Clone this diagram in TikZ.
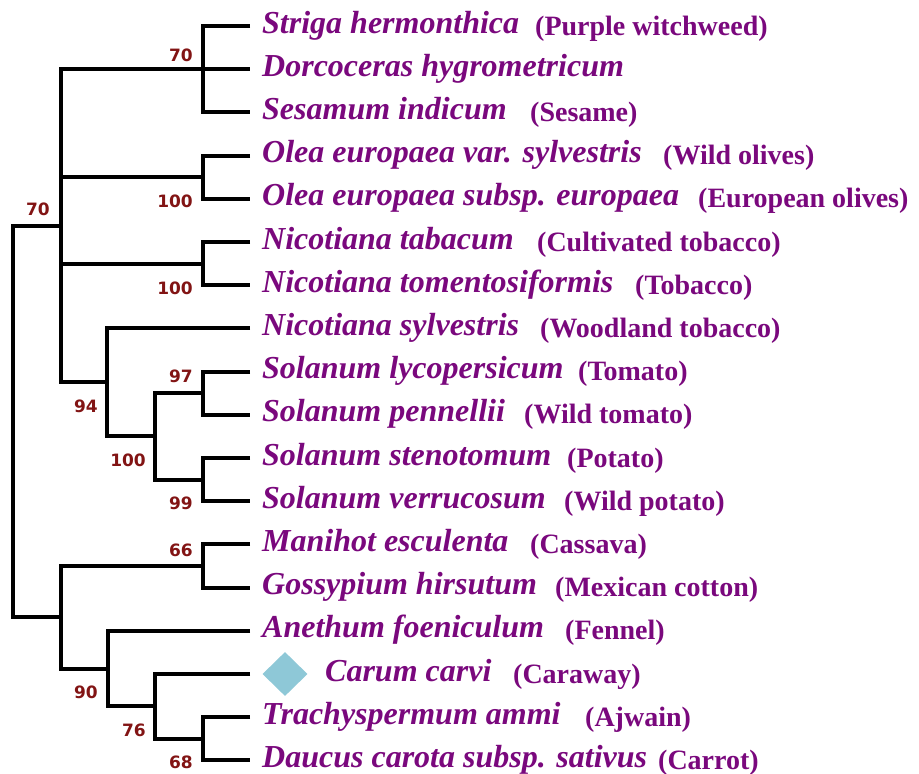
\documentclass[tikz,border=0pt]{standalone}
\usepackage{fontspec}
\setmainfont{Liberation Serif}
\newfontfamily\lblfont{DejaVu Sans}
\usetikzlibrary{shapes.geometric}
\definecolor{taxon}{RGB}{122,8,125}
\definecolor{boot}{RGB}{130,20,20}
\definecolor{gem}{RGB}{142,200,215}
\begin{document}
\begin{tikzpicture}[x=1pt,y=-1pt,
  branch/.style={line width=4pt,line join=miter},
  sci/.style={text=taxon,inner sep=0pt,anchor=base west,font=\fontsize{32}{36}\selectfont\bfseries\itshape},
  common/.style={text=taxon,inner sep=0pt,anchor=base west,font=\fontsize{28}{32}\selectfont\bfseries},
  bs/.style={text=boot,inner sep=0pt,anchor=base east,font=\lblfont\fontsize{17}{20}\selectfont\bfseries}]
\useasboundingbox[fill=white] (0,0) rectangle (919,774);
% leaves
\foreach \i in {0,...,17}{\coordinate (l\i) at (250,{26+43.2*\i});}
% internal nodes
\coordinate (s1) at (203,69.2);
\coordinate (o1) at (203,177.2);
\coordinate (n1) at (203,263.6);
\coordinate (t1) at (203,393.2);
\coordinate (t2) at (203,479.6);
\coordinate (sol) at (155,436.4);
\coordinate (s94) at (107,382.4);
\coordinate (A) at (61,225.8);
\coordinate (m1) at (203,566);
\coordinate (c68) at (203,738.8);
\coordinate (c76) at (155,706.4);
\coordinate (c90) at (108,668.6);
\coordinate (B) at (61,617.3);
\coordinate (root) at (13,421.5);
% branches
\draw[branch] (l0) -| (s1) |- (l2);
\draw[branch] (s1) -- (l1);
\draw[branch] (l3) -| (o1) |- (l4);
\draw[branch] (l5) -| (n1) |- (l6);
\draw[branch] (l8) -| (t1) |- (l9);
\draw[branch] (l10) -| (t2) |- (l11);
\draw[branch] (t1) -| (sol) |- (t2);
\draw[branch] (l7) -| (s94) |- (sol);
\draw[branch] (s1) -| (A) |- (s94);
\draw[branch] (A |- o1) -- (o1);
\draw[branch] (A |- n1) -- (n1);
\draw[branch] (l12) -| (m1) |- (l13);
\draw[branch] (l16) -| (c68) |- (l17);
\draw[branch] (l15) -| (c76) |- (c68);
\draw[branch] (l14) -| (c90) |- (c76);
\draw[branch] (m1) -| (B) |- (c90);
\draw[branch] (A) -| (root) |- (B);
% taxon names
\node[sci] (x0) at ([shift={(12,7)}]l0) {Striga hermonthica};
\node[sci] (x1) at ([shift={(12,7)}]l1) {Dorcoceras hygrometricum};
\node[sci] (x2) at ([shift={(12,7)}]l2) {Sesamum indicum};
\node[sci] (x3) at ([shift={(12,7)}]l3) {Olea europaea var. sylvestris};
\node[sci] (x4) at ([shift={(12,7)}]l4) {Olea europaea subsp. europaea};
\node[sci] (x5) at ([shift={(12,7)}]l5) {Nicotiana tabacum};
\node[sci] (x6) at ([shift={(12,7)}]l6) {Nicotiana tomentosiformis};
\node[sci] (x7) at ([shift={(12,7)}]l7) {Nicotiana sylvestris};
\node[sci] (x8) at ([shift={(12,7)}]l8) {Solanum lycopersicum};
\node[sci] (x9) at ([shift={(12,7)}]l9) {Solanum pennellii};
\node[sci] (x10) at ([shift={(12,7)}]l10) {Solanum stenotomum};
\node[sci] (x11) at ([shift={(12,7)}]l11) {Solanum verrucosum};
\node[sci] (x12) at ([shift={(12,7)}]l12) {Manihot esculenta};
\node[sci] (x13) at ([shift={(12,7)}]l13) {Gossypium hirsutum};
\node[sci] (x14) at ([shift={(12,7)}]l14) {Anethum foeniculum};
\node[diamond,fill=gem,minimum width=45pt,minimum height=44pt,inner sep=0pt] (gemmark) at ([shift={(35,0)}]l15) {};
\node[sci] (x15) at ([shift={(75,7)}]l15) {Carum carvi};
\node[sci] (x16) at ([shift={(12,7)}]l16) {Trachyspermum ammi};
\node[sci] (x17) at ([shift={(12,7)}]l17) {Daucus carota subsp. sativus};
% common names
\node[common] (k0) at (535,35) {(Purple witchweed)};
\node[common] (k2) at (530,121.4) {(Sesame)};
\node[common] (k3) at (663,164.6) {(Wild olives)};
\node[common] (k4) at (698,207.8) {(European olives)};
\node[common] (k5) at (537,251) {(Cultivated tobacco)};
\node[common] (k6) at (635,294.2) {(Tobacco)};
\node[common] (k7) at (540,337.4) {(Woodland tobacco)};
\node[common] (k8) at (578,380.6) {(Tomato)};
\node[common] (k9) at (524,423.8) {(Wild tomato)};
\node[common] (k10) at (567,467) {(Potato)};
\node[common] (k11) at (564,510.2) {(Wild potato)};
\node[common] (k12) at (530,553.4) {(Cassava)};
\node[common] (k13) at (555,596.6) {(Mexican cotton)};
\node[common] (k14) at (565,639.8) {(Fennel)};
\node[common] (k15) at (513,683) {(Caraway)};
\node[common] (k16) at (585,726.2) {(Ajwain)};
\node[common] (k17) at (658,769.4) {(Carrot)};
% bootstrap values
\node[bs] (b1) at (193,61) {70};
\node[bs] (b2) at (193,207) {100};
\node[bs] (b3) at (193,294) {100};
\node[bs] (b4) at (50,215) {70};
\node[bs] (b5) at (193,382) {97};
\node[bs] (b6) at (98,412) {94};
\node[bs] (b7) at (146,466) {100};
\node[bs] (b8) at (193,509) {99};
\node[bs] (b9) at (193,556) {66};
\node[bs] (b10) at (98,698) {90};
\node[bs] (b11) at (146,736) {76};
\node[bs] (b12) at (193,768) {68};
\end{tikzpicture}
\end{document}
